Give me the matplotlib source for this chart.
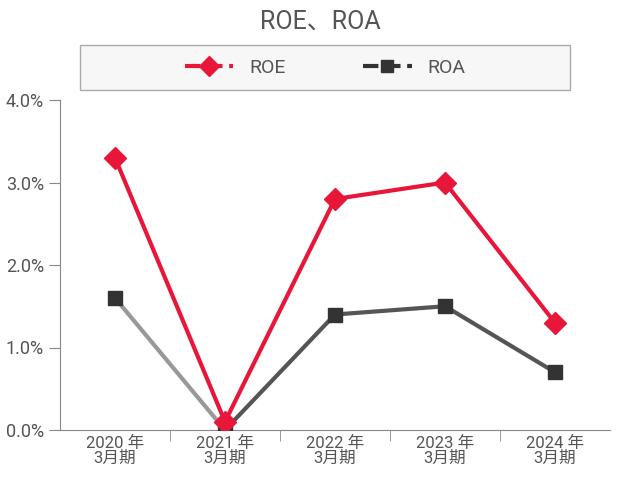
import matplotlib
matplotlib.use("Agg")
import matplotlib.pyplot as plt
from matplotlib.patches import FancyBboxPatch

plt.rcParams["font.family"] = ["Roboto", "Noto Sans CJK JP"]

categories = ["2020 年\n3月期", "2021 年\n3月期", "2022 年\n3月期", "2023 年\n3月期", "2024 年\n3月期"]
roe = [3.3, 0.1, 2.8, 3.0, 1.3]
roa = [1.6, 0.0, 1.4, 1.5, 0.7]
yticks = [0, 1, 2, 3, 4]

red = "#e8173a"
dark = "#555555"
txt = "#555555"

fig = plt.figure(figsize=(6.4, 4.8), dpi=100)
ax = fig.add_axes([60/640, 50/480, 550/640, 330/480])
x = list(range(len(categories)))

# ROA: first segment lighter gray
roa_colors = ["#999999", dark, dark, dark]
for i in range(len(x) - 1):
    ax.plot(x[i:i+2], roa[i:i+2], color=roa_colors[i], lw=3, zorder=2)
ax.plot(x, roa, ls="none", marker="s", ms=10, color="#333333", zorder=3)
ax.plot(x, roe, color=red, lw=3, marker="D", ms=11, zorder=4)

ax.set_xlim(-0.5, 4.5)
ax.set_ylim(0, 4)
ax.set_yticks(yticks)
ax.set_yticklabels([f"{v:.1f}%" for v in yticks], fontsize=13, color=txt)
ax.set_xticks(x)
ax.set_xticklabels(categories, fontsize=12, color=txt, linespacing=1.0)
ax.set_xticks([i + 0.5 for i in range(4)], minor=True)
ax.tick_params(axis="x", which="major", length=0, pad=4)
ax.tick_params(axis="x", which="minor", length=8, color="#888888")
ax.tick_params(axis="y", length=8, color="#888888")
for s in ["top", "right"]:
    ax.spines[s].set_visible(False)
for s in ["left", "bottom"]:
    ax.spines[s].set_color("#888888")

fig.text(0.5, 0.955, "ROE、ROA", ha="center", va="center", fontsize=18, color=txt)

fig.patches.append(FancyBboxPatch((80/640, 390/480), 490/640, 45/480,
                                  boxstyle="square,pad=0", transform=fig.transFigure,
                                  facecolor="#f7f7f7", edgecolor="#aaaaaa", lw=1))
h1, = ax.plot([], [], color=red, lw=3, ls="--", marker="D", ms=10)
h2, = ax.plot([], [], color="#333333", lw=3, ls="--", marker="s", ms=9)
fig.legend([h1, h2], ["ROE", "ROA"], loc="center", bbox_to_anchor=(325/640, 412/480),
           ncol=2, frameon=False, fontsize=14, labelcolor=txt, columnspacing=4,
           handlelength=2.5)

fig.savefig("out.png", dpi=100)
